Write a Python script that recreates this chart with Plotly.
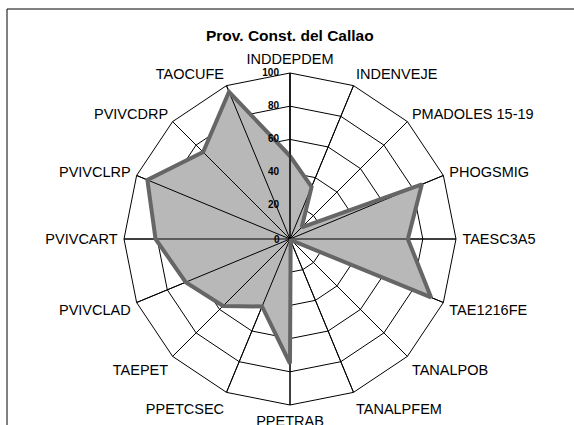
import plotly.graph_objects as go

categories = ["INDDEPDEM", "INDENVEJE", "PMADOLES 15-19", "PHOGSMIG", "TAESC3A5",
              "TAE1216FE", "TANALPOB", "TANALPFEM", "PPETRAB", "PPETCSEC", "TAEPET",
              "PVIVCLAD", "PVIVCART", "PVIVCLRP", "PVIVCDRP", "TAOCUFE"]
values = [50, 34, 10, 86, 71, 92, 1, 1, 75, 44, 57, 68, 81, 93, 74, 96]
radial_ticks = [0, 20, 40, 60, 80, 100]
title_text = "Prov. Const. del Callao"

W, H = 574, 425
cx, cy, R = 290, 239, 166

closed_r = values + [values[0]]
closed_t = categories + [categories[0]]

fig = go.Figure()
# filled area
fig.add_trace(go.Scatterpolar(r=closed_r, theta=closed_t, mode="lines", fill="toself",
                              fillcolor="#B8B8B8", line=dict(color="rgba(0,0,0,0)", width=0),
                              hoverinfo="skip", showlegend=False))
# spokes on top of fill
sr, st = [], []
for c in categories:
    sr += [0, radial_ticks[-1], None]
    st += [c, c, None]
fig.add_trace(go.Scatterpolar(r=sr, theta=st, mode="lines", line=dict(color="black", width=1),
                              connectgaps=False, hoverinfo="skip", showlegend=False))
# outline
fig.add_trace(go.Scatterpolar(r=closed_r, theta=closed_t, mode="lines",
                              line=dict(color="#666666", width=4),
                              hoverinfo="skip", showlegend=False))
# radial tick labels (horizontal, left of the top axis)
nonzero = [v for v in radial_ticks if v > 0]
fig.add_trace(go.Scatterpolar(r=nonzero, theta=[categories[0]] * len(nonzero),
                              mode="markers+text", text=["<b>%d</b>" % v for v in nonzero],
                              textposition="middle left", cliponaxis=False,
                              marker=dict(size=16, color="rgba(0,0,0,0)"),
                              textfont=dict(size=10, color="black"),
                              hoverinfo="skip", showlegend=False))

dom_x = [(cx - R) / W, (cx + R) / W]
dom_y = [(H - cy - R) / H, (H - cy + R) / H]

fig.update_layout(
    width=W, height=H,
    margin=dict(l=0, r=0, t=0, b=0),
    paper_bgcolor="white",
    font=dict(family="Liberation Sans, Arial, sans-serif", color="black"),
    showlegend=False,
    polar=dict(
        domain=dict(x=dom_x, y=dom_y),
        bgcolor="white",
        gridshape="linear",
        radialaxis=dict(range=[0, 100], tickvals=radial_ticks, angle=90,
                        showticklabels=False, showline=True, linecolor="black", linewidth=1,
                        gridcolor="black", gridwidth=1, ticks=""),
        angularaxis=dict(categoryarray=categories, rotation=90, direction="clockwise",
                         showline=True, linecolor="black", linewidth=1,
                         gridcolor="black", gridwidth=1, ticks="outside", ticklen=3,
                         tickcolor="rgba(0,0,0,0)",
                         tickfont=dict(size=14.5, color="black")),
    ),
    shapes=[dict(type="rect", xref="paper", yref="paper", x0=7 / W, x1=1.05,
                 y0=-0.05, y1=(H - 9) / H, line=dict(color="black", width=1))],
    annotations=[
        dict(text="<b>" + title_text + "</b>", x=cx / W, y=1 - 35 / H,
             xref="paper", yref="paper", showarrow=False, xanchor="center",
             yanchor="middle", font=dict(size=15.5, color="black")),
        dict(text="<b>%d</b>" % radial_ticks[0], x=sum(dom_x) / 2, y=sum(dom_y) / 2,
             xref="paper", yref="paper", showarrow=False, xanchor="right",
             yanchor="middle", xshift=-8, font=dict(size=10, color="black")),
    ],
)

fig.write_html("out.html", config={"displayModeBar": False},
               post_script="document.body.style.margin='0';document.body.style.overflow='hidden';")
